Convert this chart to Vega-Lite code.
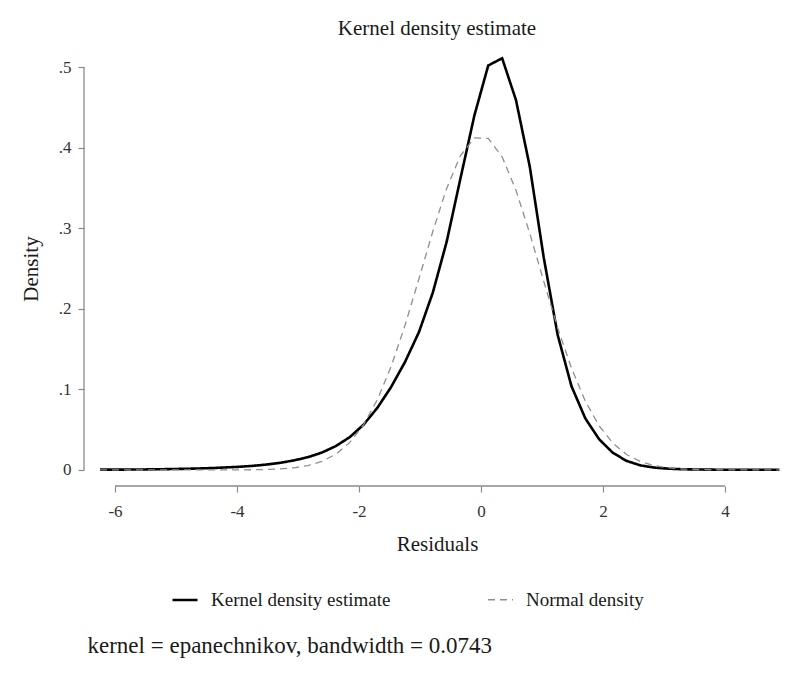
{
  "$schema": "https://vega.github.io/schema/vega-lite/v6.json",
  "background": "white",
  "padding": {"left": 20, "top": 18, "right": 10, "bottom": 10},
  "config": {
    "font": "Liberation Serif",
    "view": {"stroke": null},
    "title": {"font": "Liberation Serif", "fontWeight": "normal", "color": "#1a1a1a"},
    "axis": {"labelFont": "Liberation Serif", "titleFont": "Liberation Serif", "titleFontWeight": "normal", "labelColor": "#333333", "titleColor": "#1a1a1a", "tickColor": "#8a8a8a", "tickWidth": 1.2, "grid": false, "domain": false},
    "legend": {"labelFont": "Liberation Serif"}
  },
  "spacing": 80,
  "vconcat": [
    {
      "width": 706,
      "height": 435,
      "title": {"text": "Kernel density estimate", "fontSize": 21, "offset": 12},
      "layer": [
        {
          "data": {"values": [
            {"x": -6.245, "kernel": 0.0003, "normal": 0},
            {"x": -6.018, "kernel": 0.0003, "normal": 0},
            {"x": -5.790, "kernel": 0.0004, "normal": 0},
            {"x": -5.563, "kernel": 0.0005, "normal": 0},
            {"x": -5.336, "kernel": 0.0007, "normal": 0},
            {"x": -5.109, "kernel": 0.001, "normal": 0},
            {"x": -4.881, "kernel": 0.0013, "normal": 0},
            {"x": -4.654, "kernel": 0.0017, "normal": 0},
            {"x": -4.427, "kernel": 0.0022, "normal": 0},
            {"x": -4.199, "kernel": 0.003, "normal": 0.00003},
            {"x": -3.972, "kernel": 0.0038, "normal": 0.0001},
            {"x": -3.745, "kernel": 0.005, "normal": 0.0002},
            {"x": -3.517, "kernel": 0.0066, "normal": 0.0005},
            {"x": -3.290, "kernel": 0.0088, "normal": 0.0012},
            {"x": -3.063, "kernel": 0.0118, "normal": 0.0026},
            {"x": -2.836, "kernel": 0.0158, "normal": 0.0054},
            {"x": -2.608, "kernel": 0.0215, "normal": 0.0105},
            {"x": -2.381, "kernel": 0.0295, "normal": 0.0194},
            {"x": -2.154, "kernel": 0.0405, "normal": 0.0338},
            {"x": -1.926, "kernel": 0.056, "normal": 0.0559},
            {"x": -1.699, "kernel": 0.077, "normal": 0.0872},
            {"x": -1.472, "kernel": 0.103, "normal": 0.1286},
            {"x": -1.245, "kernel": 0.134, "normal": 0.1795},
            {"x": -1.017, "kernel": 0.171, "normal": 0.2372},
            {"x": -0.790, "kernel": 0.220, "normal": 0.2960},
            {"x": -0.563, "kernel": 0.283, "normal": 0.3494},
            {"x": -0.336, "kernel": 0.362, "normal": 0.3902},
            {"x": -0.108, "kernel": 0.440, "normal": 0.4121},
            {"x": 0.119, "kernel": 0.502, "normal": 0.4115},
            {"x": 0.347, "kernel": 0.511, "normal": 0.3886},
            {"x": 0.574, "kernel": 0.459, "normal": 0.3471},
            {"x": 0.801, "kernel": 0.376, "normal": 0.2932},
            {"x": 1.028, "kernel": 0.264, "normal": 0.2343},
            {"x": 1.256, "kernel": 0.168, "normal": 0.1768},
            {"x": 1.483, "kernel": 0.104, "normal": 0.1264},
            {"x": 1.710, "kernel": 0.064, "normal": 0.0854},
            {"x": 1.937, "kernel": 0.038, "normal": 0.0546},
            {"x": 2.165, "kernel": 0.021, "normal": 0.0330},
            {"x": 2.392, "kernel": 0.011, "normal": 0.0188},
            {"x": 2.619, "kernel": 0.0055, "normal": 0.0102},
            {"x": 2.846, "kernel": 0.0028, "normal": 0.0052},
            {"x": 3.074, "kernel": 0.0015, "normal": 0.0025},
            {"x": 3.301, "kernel": 0.0008, "normal": 0.0011},
            {"x": 3.528, "kernel": 0.0005, "normal": 0.0005},
            {"x": 3.755, "kernel": 0.0003, "normal": 0.0002},
            {"x": 3.983, "kernel": 0.0002, "normal": 0.0001},
            {"x": 4.210, "kernel": 0.0001, "normal": 0.00003},
            {"x": 4.437, "kernel": 0.0001, "normal": 0.00001},
            {"x": 4.665, "kernel": 0.0001, "normal": 0},
            {"x": 4.892, "kernel": 0.0001, "normal": 0}
          ]},
          "transform": [{"fold": ["kernel", "normal"], "as": ["series", "density"]}],
          "mark": {"type": "line", "strokeJoin": "miter"},
          "encoding": {
            "x": {
              "field": "x", "type": "quantitative",
              "scale": {"domain": [-6.508, 5.066], "nice": false, "zero": false},
              "axis": {"title": "Residuals", "values": [-6, -4, -2, 0, 2, 4], "labelExpr": "'' + datum.value", "tickSize": 6, "labelFontSize": 17, "labelPadding": 11, "titleFontSize": 21, "titlePadding": 14}
            },
            "y": {
              "field": "density", "type": "quantitative",
              "scale": {"domain": [-0.02, 0.52], "nice": false, "zero": false},
              "axis": {"title": "Density", "values": [0, 0.1, 0.2, 0.3, 0.4, 0.5], "labelExpr": "datum.value === 0 ? '0' : slice(format(datum.value, '.1f'), 1)", "tickSize": 6, "labelFontSize": 17, "labelPadding": 7, "titleFontSize": 21, "titlePadding": 17}
            },
            "color": {
              "field": "series", "type": "nominal",
              "scale": {"domain": ["kernel", "normal"], "range": ["#000000", "#8f8f8f"]},
              "legend": {"orient": "none", "legendX": 87, "legendY": 535, "direction": "horizontal", "title": null, "symbolType": "stroke", "symbolSize": 625, "labelFontSize": 19, "labelOffset": 12, "labelLimit": 400, "columnPadding": 94, "labelColor": "#1a1a1a", "labelExpr": "datum.label == 'kernel' ? 'Kernel density estimate' : 'Normal density'"}
            },
            "strokeDash": {
              "field": "series", "type": "nominal",
              "scale": {"domain": ["kernel", "normal"], "range": [[1, 0], [7, 5]]},
              "legend": {"orient": "none", "legendX": 87, "legendY": 535, "direction": "horizontal", "title": null, "symbolType": "stroke", "symbolSize": 625, "labelFontSize": 19, "labelOffset": 12, "labelLimit": 400, "columnPadding": 94, "labelColor": "#1a1a1a", "labelExpr": "datum.label == 'kernel' ? 'Kernel density estimate' : 'Normal density'"}
            },
            "strokeWidth": {
              "field": "series", "type": "nominal",
              "scale": {"type": "point", "domain": ["kernel", "normal"], "range": [2.6, 1.3], "padding": 0},
              "legend": {"orient": "none", "legendX": 87, "legendY": 535, "direction": "horizontal", "title": null, "symbolType": "stroke", "symbolSize": 625, "labelFontSize": 19, "labelOffset": 12, "labelLimit": 400, "columnPadding": 94, "labelColor": "#1a1a1a", "labelExpr": "datum.label == 'kernel' ? 'Kernel density estimate' : 'Normal density'"}
            }
          }
        },
        {
          "data": {"values": [{"axis": "x"}]},
          "mark": {"type": "rule", "color": "#8a8a8a", "strokeWidth": 1.3, "clip": false},
          "encoding": {"x": {"datum": -6, "type": "quantitative"}, "x2": {"datum": 4}, "y": {"datum": -0.02, "type": "quantitative"}}
        },
        {
          "data": {"values": [{"axis": "y"}]},
          "mark": {"type": "rule", "color": "#8a8a8a", "strokeWidth": 1.3, "clip": false},
          "encoding": {"x": {"datum": -6.508, "type": "quantitative"}, "y": {"datum": 0, "type": "quantitative"}, "y2": {"datum": 0.5}}
        }
      ]
    },
    {
      "width": 1,
      "height": 1,
      "data": {"values": [{"note": "kernel = epanechnikov, bandwidth = 0.0743"}]},
      "mark": {"type": "text", "align": "left", "baseline": "middle", "dx": 3, "fontSize": 23, "font": "Liberation Serif", "color": "#1a1a1a"},
      "encoding": {"text": {"field": "note"}}
    }
  ]
}
